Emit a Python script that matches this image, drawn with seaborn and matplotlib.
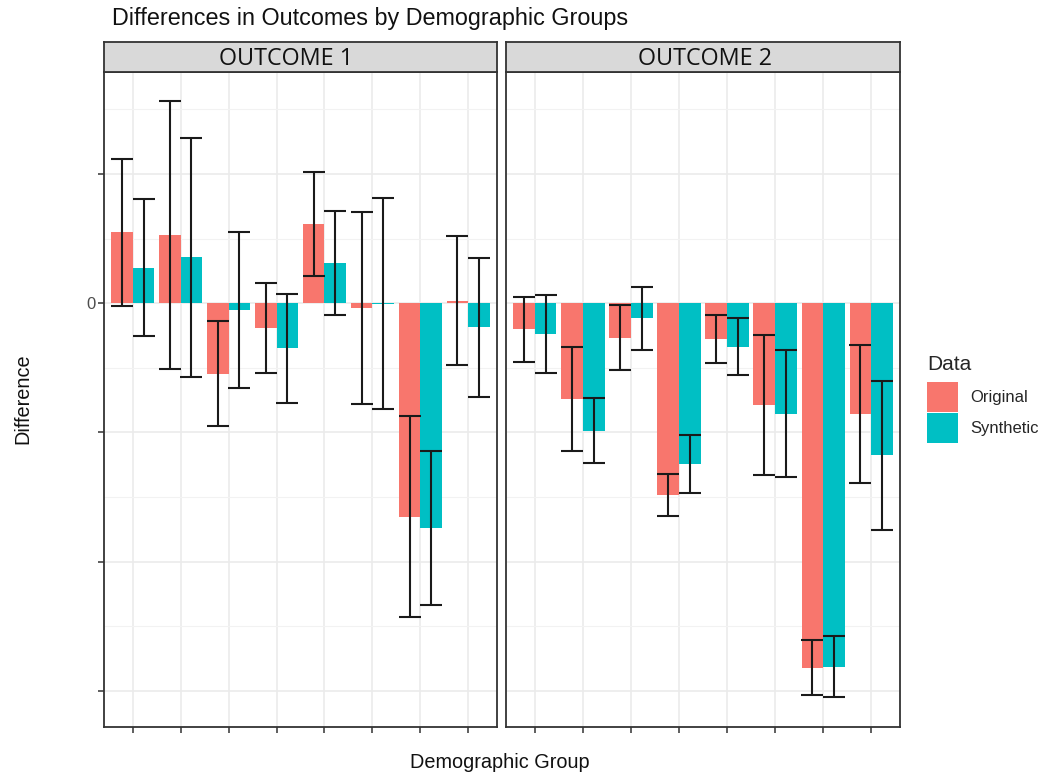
import numpy as np
import pandas as pd
import matplotlib
matplotlib.use("Agg")
import matplotlib.pyplot as plt
import seaborn as sns
from matplotlib.patches import Patch, Rectangle
from matplotlib.legend_handler import HandlerBase
from matplotlib.ticker import FixedLocator
from matplotlib import font_manager

# ---------------- data ----------------
groups = ["G1", "G2", "G3", "G4", "G5", "G6", "G7", "G8"]
outcomes = ["OUTCOME 1", "OUTCOME 2"]
data_types = ["Original", "Synthetic"]

o1_original = [0.549, 0.525, -0.546, -0.193, 0.612, -0.036, -1.652, 0.020]
o1_original_err = [0.567, 1.037, 0.407, 0.350, 0.402, 0.742, 0.777, 0.500]
o1_synthetic = [0.274, 0.355, -0.053, -0.349, 0.313, -0.004, -1.738, -0.186]
o1_synthetic_err = [0.530, 0.928, 0.604, 0.420, 0.402, 0.816, 0.594, 0.537]

o2_original = [-0.201, -0.742, -0.267, -1.485, -0.277, -0.790, -2.820, -0.860]
o2_original_err = [0.250, 0.400, 0.250, 0.163, 0.184, 0.543, 0.214, 0.535]
o2_synthetic = [-0.238, -0.986, -0.117, -1.242, -0.335, -0.854, -2.813, -1.178]
o2_synthetic_err = [0.300, 0.250, 0.243, 0.224, 0.222, 0.494, 0.236, 0.575]

y_major = [-3, -2, -1, 0, 1]
y_major_labels = ["", "", "", "0", ""]
y_minor = [-2.5, -1.5, -0.5, 0.5, 1.5]

values = {
    "OUTCOME 1": {"Original": (o1_original, o1_original_err),
                  "Synthetic": (o1_synthetic, o1_synthetic_err)},
    "OUTCOME 2": {"Original": (o2_original, o2_original_err),
                  "Synthetic": (o2_synthetic, o2_synthetic_err)},
}

rows = []
for oc in outcomes:
    for d in data_types:
        v, e = values[oc][d]
        for g, vv, ee in zip(groups, v, e):
            rows.append({"Outcome": oc, "Group": g, "Data": d, "Difference": vv, "Err": ee})
df = pd.DataFrame(rows)

palette = {"Original": "#F8766D", "Synthetic": "#00BFC4"}

# ---------------- figure ----------------
sns.set_style("white")
plt.rcParams["font.family"] = ["Liberation Sans", "DejaVu Sans"]

installed = {f.name for f in font_manager.fontManager.ttflist}
narrow = "Liberation Sans Narrow" if "Liberation Sans Narrow" in installed else "Liberation Sans"
axis_label_size = 17 if narrow == "Liberation Sans Narrow" else 14.3

W, H = 1041, 776
fig = plt.figure(figsize=(W / 100, H / 100), dpi=100)

def fx(px):
    return px / W

def fy(py):
    return 1 - py / H

panels = [(104, 497), (506, 900)]
strip_text_x = [0.463, 0.506]
top_px, bot_px, strip_top = 72, 727, 42
border_col = "#333333"

axes = []
for i, (oc, (l, r)) in enumerate(zip(outcomes, panels)):
    ax = fig.add_axes([fx(l), fy(bot_px), fx(r) - fx(l), fy(top_px) - fy(bot_px)])
    sub = df[df["Outcome"] == oc]
    sns.barplot(data=sub, x="Group", y="Difference", hue="Data", order=groups,
                hue_order=data_types, palette=palette, width=0.9, gap=0,
                errorbar=None, saturation=1, ax=ax, legend=False, zorder=2,
                linewidth=0, edgecolor="none")
    for cont, d in zip(ax.containers, data_types):
        v, e = values[oc][d]
        xs = [p.get_x() + p.get_width() / 2 for p in cont]
        ax.errorbar(xs, v, yerr=e, fmt="none", ecolor="#1a1a1a", elinewidth=1.5,
                    capsize=7.8, capthick=1.5, zorder=3)
    ax.set_xlim(-0.6, len(groups) - 0.4)
    ax.set_ylim(-3.28, 1.79)
    ax.set_axisbelow(True)
    ax.yaxis.set_major_locator(FixedLocator(y_major))
    ax.yaxis.set_minor_locator(FixedLocator(y_minor))
    ax.grid(which="major", color="#EBEBEB", lw=1.2)
    ax.grid(which="minor", axis="y", color="#F2F2F2", lw=0.8)
    ax.set_xticks(range(len(groups)))
    ax.set_xticklabels([""] * len(groups))
    ax.tick_params(axis="x", which="major", bottom=True, length=4, width=1.1,
                   color="#333333", direction="out")
    ax.tick_params(which="minor", length=0)
    if i == 0:
        ax.set_yticklabels(y_major_labels)
        ax.tick_params(axis="y", which="major", left=True, length=4, width=1.1,
                       color="#333333", labelsize=12, labelcolor="#4D4D4D", pad=2)
    else:
        ax.set_yticklabels([])
        ax.tick_params(axis="y", which="major", left=False, length=0)
    ax.set_xlabel("")
    ax.set_ylabel("")
    for s in ax.spines.values():
        s.set_visible(True)
        s.set_color(border_col)
        s.set_linewidth(1.3)
    axes.append(ax)

    # strip
    sax = fig.add_axes([fx(l), fy(top_px), fx(r) - fx(l), fy(strip_top) - fy(top_px)])
    sax.set_facecolor("#D9D9D9")
    sax.set_xticks([])
    sax.set_yticks([])
    for s in sax.spines.values():
        s.set_visible(True)
        s.set_color(border_col)
        s.set_linewidth(1.3)
    sax.text(strip_text_x[i], 0.42, oc, ha="center", va="center", fontsize=16.8,
             family=["Open Sans", "DejaVu Sans"], color="#111111", transform=sax.transAxes)

# titles and labels
fig.text(fx(112), fy(18), "Differences in Outcomes by Demographic Groups",
         ha="left", va="center", fontsize=16.8, color="#111111")
fig.text(fx(500), fy(763), "Demographic Group", ha="center", va="center",
         fontsize=axis_label_size, family=[narrow, "DejaVu Sans"], color="#111111")
fig.text(fx(23), fy(399), "Difference", ha="center", va="center", rotation=90,
         fontsize=axis_label_size, family=[narrow, "DejaVu Sans"], color="#111111")


class FullRectHandler(HandlerBase):
    def legend_artist(self, legend, orig_handle, fontsize, handlebox):
        rect = Rectangle((-handlebox.xdescent, -handlebox.ydescent),
                         handlebox.width, handlebox.height,
                         facecolor=orig_handle.get_facecolor(), edgecolor="none",
                         transform=handlebox.get_transform())
        handlebox.add_artist(rect)
        return rect


handles = [Patch(facecolor=palette[d], edgecolor="none", label=d) for d in data_types]
leg = fig.legend(handles=handles, labels=data_types, title="Data", loc="upper left",
                 bbox_to_anchor=(fx(927), fy(355)), frameon=False, fontsize=12,
                 title_fontsize=15, handlelength=1.86, handleheight=2.39,
                 labelspacing=0.06, handletextpad=0.72, borderpad=0, borderaxespad=0,
                 alignment="left", handler_map={Patch: FullRectHandler()})
leg._legend_box.sep = 5.5

fig.savefig("out.png", dpi=100)
